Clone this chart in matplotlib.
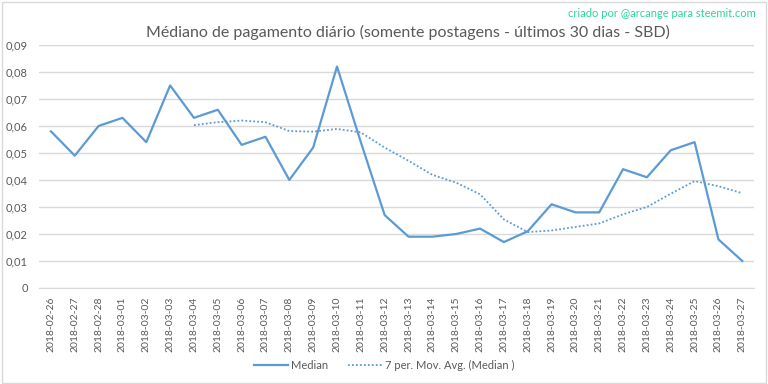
import matplotlib
matplotlib.use('Agg')
import matplotlib.pyplot as plt
from matplotlib.ticker import FuncFormatter
from matplotlib.patches import Rectangle

# dados
datas = ['2018-02-26', '2018-02-27', '2018-02-28', '2018-03-01', '2018-03-02',
         '2018-03-03', '2018-03-04', '2018-03-05', '2018-03-06', '2018-03-07',
         '2018-03-08', '2018-03-09', '2018-03-10', '2018-03-11', '2018-03-12',
         '2018-03-13', '2018-03-14', '2018-03-15', '2018-03-16', '2018-03-17',
         '2018-03-18', '2018-03-19', '2018-03-20', '2018-03-21', '2018-03-22',
         '2018-03-23', '2018-03-24', '2018-03-25', '2018-03-26', '2018-03-27']
mediana = [0.058, 0.049, 0.060, 0.063, 0.054, 0.075, 0.063, 0.066, 0.053, 0.056,
           0.040, 0.052, 0.082, 0.054, 0.027, 0.019, 0.019, 0.020, 0.022, 0.017,
           0.021, 0.031, 0.028, 0.028, 0.044, 0.041, 0.051, 0.054, 0.018, 0.010]
# média móvel de 7 períodos (começa em 2018-03-04)
media_movel = [0.0603, 0.0614, 0.0620, 0.0614, 0.0581, 0.0579, 0.0589, 0.0576,
               0.0520, 0.0471, 0.0419, 0.0390, 0.0347, 0.0254, 0.0207, 0.0213,
               0.0226, 0.0239, 0.0273, 0.0300, 0.0349, 0.0396, 0.0377, 0.0351]
y_ticks = [0, 0.01, 0.02, 0.03, 0.04, 0.05, 0.06, 0.07, 0.08, 0.09]

azul = '#5B9BD5'
cinza = '#595959'
plt.rcParams['font.family'] = ['Lato', 'DejaVu Sans']

fig = plt.figure(figsize=(7.68, 3.84), dpi=100)
ax = fig.add_axes([0.0508, 0.25, 0.9312, 0.633])

x = list(range(len(datas)))
inicio = len(datas) - len(media_movel)
ax.plot(x, mediana, color=azul, linewidth=1.6, label='Median')
ax.plot(x[inicio:], media_movel, color=azul, linewidth=1.3, linestyle=(0, (1, 1.2)),
        label='7 per. Mov. Avg. (Median )')

ax.set_xlim(-0.5, len(datas) - 0.5)
ax.set_ylim(0, 0.09)
ax.set_yticks(y_ticks)
ax.yaxis.set_major_formatter(FuncFormatter(
    lambda v, p: '0' if v == 0 else f'{v:.2f}'.replace('.', ',')))
ax.set_xticks(x)
ax.set_xticklabels(datas, rotation=90, fontsize=7.5, color=cinza)
ax.tick_params(axis='y', labelsize=8, colors=cinza, length=0, pad=8)
ax.tick_params(axis='x', length=0, pad=6)
ax.grid(axis='y', color='#D9D9D9', linewidth=1)
ax.set_axisbelow(True)
for s in ['top', 'right', 'left']:
    ax.spines[s].set_visible(False)
ax.spines['bottom'].set_color('#D9D9D9')

fig.text(0.531, 0.915, 'Médiano de pagamento diário (somente postagens - últimos 30 dias - SBD)',
         ha='center', va='center', fontsize=11.5, color=cinza)
fig.text(0.984, 0.965, 'criado por @arcange para steemit.com', ha='right', va='center',
         fontsize=8, color='#2ED3A0')

ax.legend(loc='center', bbox_to_anchor=(0.483, -0.317), ncol=2, frameon=False,
          fontsize=8, labelcolor=cinza, handlelength=3.0, handletextpad=0.3,
          columnspacing=1.8)

fig.patches.append(Rectangle((0.002, 0.003), 0.995, 0.993, transform=fig.transFigure,
                             fill=False, edgecolor='#D9D9D9', linewidth=1))

plt.savefig('out.png', dpi=100)
